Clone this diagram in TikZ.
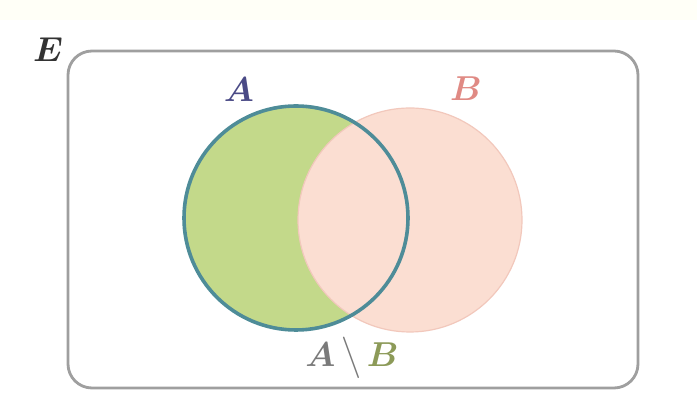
\documentclass[tikz,border=0pt]{standalone}
\usepackage{amsmath,bm}
\begin{document}
\begin{tikzpicture}[x=0.5pt,y=-0.5pt,
  lbl/.style={font=\fontsize{18}{20}\selectfont, inner sep=0pt},
  univ/.style={draw=gray!75, line width=1.4pt, rounded corners=12pt},
  setA/.style={fill=Afill, draw=Aline, line width=2pt},
  setB/.style={fill=Bfill, draw=Bline, line width=0.6pt}]
\definecolor{Afill}{HTML}{C3D98A}
\definecolor{Aline}{HTML}{4E8C98}
\definecolor{Bfill}{HTML}{FBDED2}
\definecolor{Bline}{HTML}{F2C8BC}
\definecolor{Alab}{HTML}{4A4A86}
\definecolor{Blab}{HTML}{E08A84}
\definecolor{ABgrey}{HTML}{7A7A7A}
\definecolor{ABgreen}{HTML}{8C9A58}
\definecolor{Elab}{HTML}{333333}
\useasboundingbox (0,0) rectangle (697,410);
\fill[white] (0,0) rectangle (697,410);
\fill[yellow!3] (0,0) rectangle (697,20);
\draw[univ] (68,51) rectangle (638,388);
\node[lbl, text=Elab] (E) at (48,50) {$\bm{E}$};
% circles
\fill[Afill] (296,218) circle[radius=112];
\draw[setB] (410,220) circle[radius=112];
\draw[Aline, line width=1.8pt] (296,218) circle[radius=112];
\node[lbl, text=Alab] (A) at (239,90) {$\bm{A}$};
\node[lbl, text=Blab] (B) at (466,89) {$\bm{B}$};
\node[lbl] (AB) at (352,358) {$\color{ABgrey}\bm{A}\,\bm{\big\backslash}\,\color{ABgreen}\bm{B}$};
\end{tikzpicture}
\end{document}
